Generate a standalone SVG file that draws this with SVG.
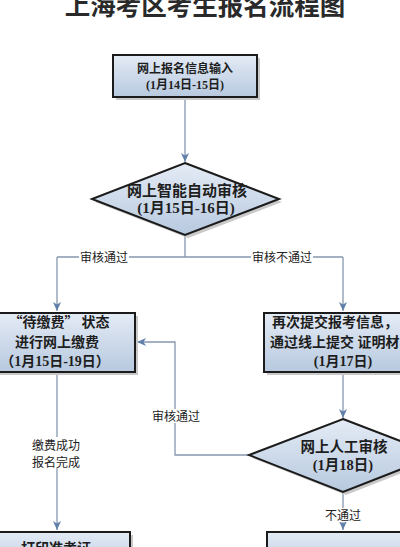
<svg xmlns="http://www.w3.org/2000/svg" width="400" height="547" viewBox="0 0 400 547">
<defs>
<linearGradient id="fill" x1="0" y1="0" x2="0" y2="1">
<stop offset="0" stop-color="#e4ebf5"/>
<stop offset="1" stop-color="#b7c9df"/>
</linearGradient>
<marker id="arr" markerUnits="userSpaceOnUse" markerWidth="10" markerHeight="10" viewBox="0 0 10 10" refX="9" refY="5" orient="auto">
<path d="M0,1 L9,5 L0,9 L2.5,5 Z" fill="#5f7fa8"/>
</marker>
</defs>
<style>
.box{fill:url(#fill);stroke:#1b1b1b;stroke-width:2}
.shadow{fill:#c9c9c9}
.t{font-family:"Liberation Serif","Noto Sans CJK SC",serif;font-weight:bold;fill:#1e1e1e;text-anchor:middle}
.cjk{font-family:"Noto Sans CJK SC",sans-serif}
.lbl{font-family:"Liberation Serif","Noto Sans CJK SC",serif;font-size:12px;fill:#222;text-anchor:middle}
.ln{fill:none;stroke:#8698b0;stroke-width:1.3}
.bg{fill:#fff}
</style>
<rect width="400" height="547" fill="#fff"/>
<text x="205" y="15" font-family="'Noto Sans CJK SC',sans-serif" font-weight="bold" font-size="25.5" fill="#2a2a2a" text-anchor="middle">上海考区考生报名流程图</text>

<g id="connectors">
<path class="ln" d="M185,98 V162" marker-end="url(#arr)"/>
<path class="ln" d="M185,236 V257 M57,257 H343"/>
<path class="ln" d="M57,257 V311" marker-end="url(#arr)"/>
<path class="ln" d="M343,257 V311" marker-end="url(#arr)"/>
<path class="ln" d="M343,373 V418" marker-end="url(#arr)"/>
<path class="ln" d="M249,455 H175 V342 H137" marker-end="url(#arr)"/>
<path class="ln" d="M343,493 V530" marker-end="url(#arr)"/>
<path class="ln" d="M57,373 V530" marker-end="url(#arr)"/>
<rect class="bg" x="79" y="250" width="50" height="14"/>
<text class="lbl" x="104" y="261.5">审核通过</text>
<rect class="bg" x="251" y="250" width="62" height="14"/>
<text class="lbl" x="282" y="261.5">审核不通过</text>
<rect class="bg" x="151" y="409" width="50" height="14"/>
<text class="lbl" x="176" y="420.5">审核通过</text>
<rect class="bg" x="324" y="508" width="38" height="14"/>
<text class="lbl" x="343" y="519.5">不通过</text>
<rect class="bg" x="31" y="437" width="52" height="31"/>
<text class="lbl" x="56" y="449.5">缴费成功</text>
<text class="lbl" x="56" y="466.5">报名完成</text>
</g>

<g id="n1">
<rect class="shadow" x="116" y="58" width="144" height="42"/>
<rect class="box" x="113" y="55" width="144" height="42"/>
<text class="t" x="185" y="73" font-size="12">网上报名信息输入</text>
<text class="t" x="185" y="89" font-size="12">(1月14日-15日)</text>
</g>

<g id="n2">
<polygon class="shadow" points="188,166 282,202 188,238 95,202"/>
<polygon class="box" points="185,163 279,199 185,235 92,199"/>
<text class="t" x="187" y="196" font-size="15">网上智能自动审核</text>
<text class="t" x="186" y="213" font-size="15">(1月15日-16日)</text>
</g>

<g id="n3">
<rect class="shadow" x="-18" y="316" width="156" height="59"/>
<rect class="box" x="-21" y="313" width="156" height="59"/>
<text class="t cjk" x="59" y="327" font-size="14">“待缴费” 状态</text>
<text class="t" x="57" y="347" font-size="14">进行网上缴费</text>
<text class="t" x="55" y="366" font-size="14">（1月15日-19日）</text>
</g>

<g id="n4">
<rect class="shadow" x="267" y="316" width="156" height="59"/>
<rect class="box" x="264" y="313" width="156" height="59"/>
<text class="t" x="272" y="327" font-size="14" style="text-anchor:start">再次提交报考信息，</text>
<text class="t" x="270" y="347" font-size="14" style="text-anchor:start">通过线上提交 证明材</text>
<text class="t" x="343" y="366" font-size="14">(1月17日)</text>
</g>

<g id="n5">
<polygon class="shadow" points="346,422 440,458 346,495 252,458"/>
<polygon class="box" points="343,419 437,455 343,492 249,455"/>
<text class="t" x="344" y="452" font-size="14.5">网上人工审核</text>
<text class="t" x="343" y="470" font-size="14.5">(1月18日)</text>
</g>

<g id="n6">
<rect class="shadow" x="-13" y="535" width="146" height="40"/>
<rect class="box" x="-16" y="532" width="146" height="40"/>
<text class="t" x="56" y="553" font-size="14">打印准考证</text>
</g>

<g id="n7">
<rect class="shadow" x="270" y="535" width="156" height="40"/>
<rect class="box" x="267" y="532" width="156" height="40"/>
</g>
</svg>
